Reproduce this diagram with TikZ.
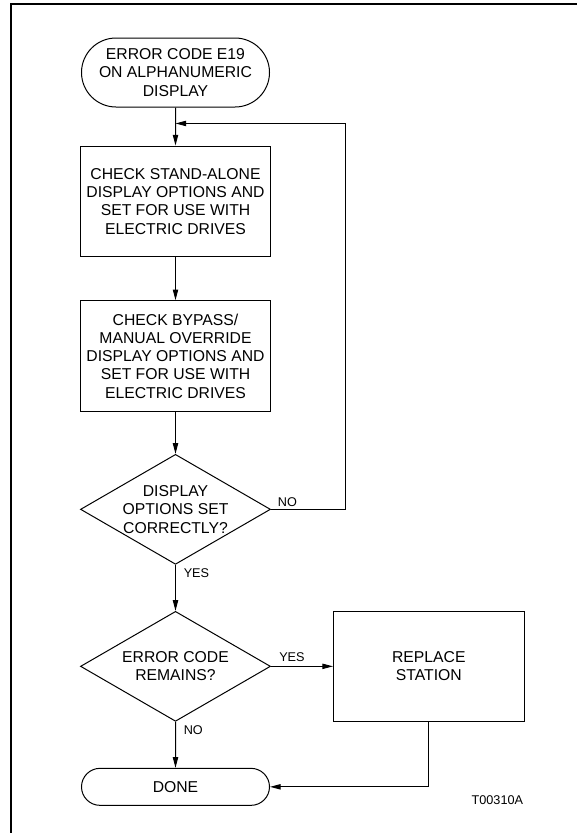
\documentclass[tikz,border=0pt]{standalone}
\usepackage{fontspec}
\setmainfont{Liberation Sans}
\usetikzlibrary{positioning,arrows.meta,calc,shapes.misc,shapes.geometric}

\begin{document}
\begin{tikzpicture}[x=0.75pt,y=-0.75pt,
      txt/.style={font=\fontsize{11.8}{13.7}\selectfont,align=center,text=black},
      term/.style={txt,rounded rectangle,draw,line width=0.75pt,inner sep=1pt,minimum width=143pt},
      proc/.style={txt,rectangle,draw,line width=0.75pt,minimum width=143pt,minimum height=83pt,inner sep=2pt},
      dec/.style={txt,diamond,draw,line width=0.75pt,aspect=1.7,inner sep=0pt,
                  minimum width=142.5pt,minimum height=82.5pt},
      lbl/.style={font=\fontsize{9.5}{11}\selectfont,inner sep=1pt},
      fl/.style={-{Triangle[length=8pt,width=4pt]},line width=0.75pt}]
    \useasboundingbox (0,0) rectangle (577,833);
    \draw[line width=1.6pt] (11,833) -- (11,4) -- (577,4);
    \node[term,minimum height=51.75pt] (start) at (175.5,72.5) {ERROR CODE E19\\ON ALPHANUMERIC\\DISPLAY};
    \node[proc,below=28.5pt of start] (standalone) {CHECK STAND-ALONE\\DISPLAY OPTIONS AND\\SET FOR USE WITH\\ELECTRIC DRIVES};
    \node[proc,below=32.25pt of standalone] (bypass) {CHECK BYPASS/\\MANUAL OVERRIDE\\DISPLAY OPTIONS AND\\SET FOR USE WITH\\ELECTRIC DRIVES};
    \node[dec,below=31.5pt of bypass] (setok) {DISPLAY\\OPTIONS SET\\CORRECTLY?};
    \node[dec,below=34.5pt of setok] (remains) {ERROR CODE\\REMAINS?};
    \node[proc,right=46.5pt of remains] (replace) {REPLACE\\STATION};
    \node[term,minimum height=27.75pt,below=34.5pt of remains] (done) {DONE};
    \coordinate (join) at ($(start.south)!0.42!(standalone.north)$);
    \coordinate[right=55.5pt of setok.east] (back);
    \draw[fl] (start) -- (standalone);
    \draw[fl] (standalone) -- (bypass);
    \draw[fl] (bypass) -- (setok);
    \draw[fl] (setok.east) -- (back) |- (join);
    \draw[fl] (setok) -- (remains);
    \draw[fl] (remains) -- (replace);
    \draw[fl] (remains) -- (done);
    \draw[fl] (replace.south) |- (done.east);
    \node[lbl,above right=1pt and 4pt of setok.east] (no1) {NO};
    \node[lbl,below right=2pt and 5pt of setok.south] (yes1) {YES};
    \node[lbl,above right=2pt and 5pt of remains.east] (yes2) {YES};
    \node[lbl,below right=2pt and 5pt of remains.south] (no2) {NO};
    \node[lbl,below left=54pt and 0pt of replace.south east] (tag) {T00310A};
  \end{tikzpicture}
\end{document}
